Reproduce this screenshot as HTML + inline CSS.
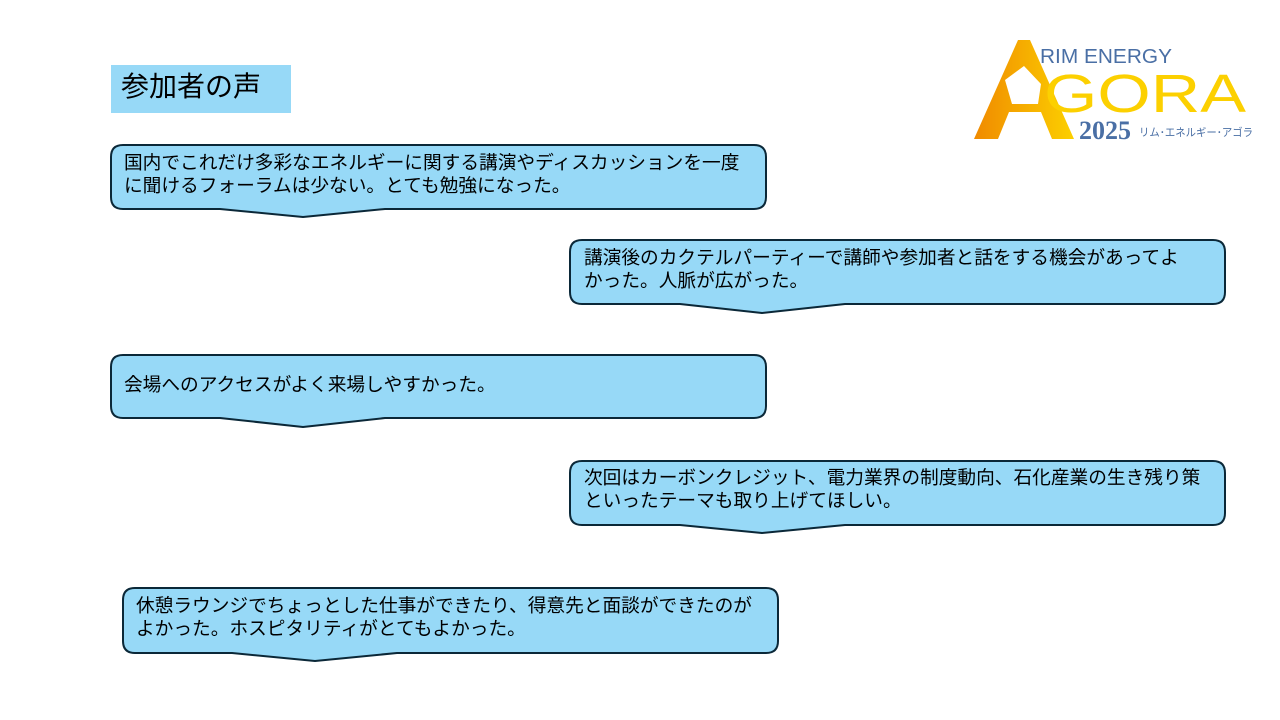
<!DOCTYPE html>
<html><head><meta charset="utf-8"><style>
body{margin:0;width:1280px;height:720px;background:#fff;position:relative;overflow:hidden;font-family:"Liberation Sans","Noto Sans CJK JP",sans-serif}
svg{position:absolute;left:0;top:0}
.t{position:absolute;font-size:18.7px;line-height:22.5px;color:#000;white-space:nowrap}
.title{position:absolute;left:111px;top:65px;width:180px;height:48px;background:#97d9f7;font-size:28px;line-height:40px;box-sizing:border-box;padding-left:10px;padding-top:2px}
</style></head><body>
<svg width="1280" height="720">
<g fill="#97d9f7" stroke="#0b2838" stroke-width="2" stroke-linejoin="round">
<path d="M123,145 H754 Q766,145 766,157 V197 Q766,209 754,209 H385 L303,217 L220,209 H123 Q111,209 111,197 V157 Q111,145 123,145 Z"/>
<path d="M582,240 H1213 Q1225,240 1225,252 V292 Q1225,304 1213,304 H845 L762,313 L680,304 H582 Q570,304 570,292 V252 Q570,240 582,240 Z"/>
<path d="M123,355 H754 Q766,355 766,367 V406 Q766,418 754,418 H385 L303,427 L220,418 H123 Q111,418 111,406 V367 Q111,355 123,355 Z"/>
<path d="M582,461 H1213 Q1225,461 1225,473 V513 Q1225,525 1213,525 H845 L762,533 L680,525 H582 Q570,525 570,513 V473 Q570,461 582,461 Z"/>
<path d="M135,588 H766 Q778,588 778,600 V641 Q778,653 766,653 H397 L315,661 L232,653 H135 Q123,653 123,641 V600 Q123,588 135,588 Z"/>
</g>
<defs><linearGradient id="g" x1="0" x2="1"><stop offset="0" stop-color="#f08a00"/><stop offset="1" stop-color="#fcd000"/></linearGradient></defs>
<path d="M974,139 L1018,40 L1030,40 L1074,139 L1052,139 L1041,112 L1009,112 L998,139 Z M1012,104 L1038,104 L1041,84 L1024,66 L1005,80 Z" fill="url(#g)" fill-rule="evenodd"/>
<text x="1040" y="63" font-family="Liberation Sans" font-size="20" fill="#4a6fa5" textLength="132" lengthAdjust="spacingAndGlyphs">RIM ENERGY</text>
<text x="1044" y="112" font-family="Liberation Sans" font-size="54" fill="#fcd000" textLength="202" lengthAdjust="spacingAndGlyphs">GORA</text>
<text x="1079" y="139" font-family="Liberation Serif" font-weight="bold" font-size="26" fill="#4a6fa5">2025</text>
<text x="1139" y="136" font-family="Noto Sans CJK JP" font-size="11" fill="#4a6fa5" textLength="114" lengthAdjust="spacingAndGlyphs">リム･エネルギー･アゴラ</text>
</svg>
<div class="title">参加者の声</div>
<div class="t" style="left:124px;top:152px">国内でこれだけ多彩なエネルギーに関する講演やディスカッションを一度<br>に聞けるフォーラムは少ない。とても勉強になった。</div>
<div class="t" style="left:584px;top:247px">講演後のカクテルパーティーで講師や参加者と話をする機会があってよ<br>かった。人脈が広がった。</div>
<div class="t" style="left:124px;top:374px">会場へのアクセスがよく来場しやすかった。</div>
<div class="t" style="left:584px;top:467px">次回はカーボンクレジット、電力業界の制度動向、石化産業の生き残り策<br>といったテーマも取り上げてほしい。</div>
<div class="t" style="left:136px;top:595px">休憩ラウンジでちょっとした仕事ができたり、得意先と面談ができたのが<br>よかった。ホスピタリティがとてもよかった。</div>
</body></html>
